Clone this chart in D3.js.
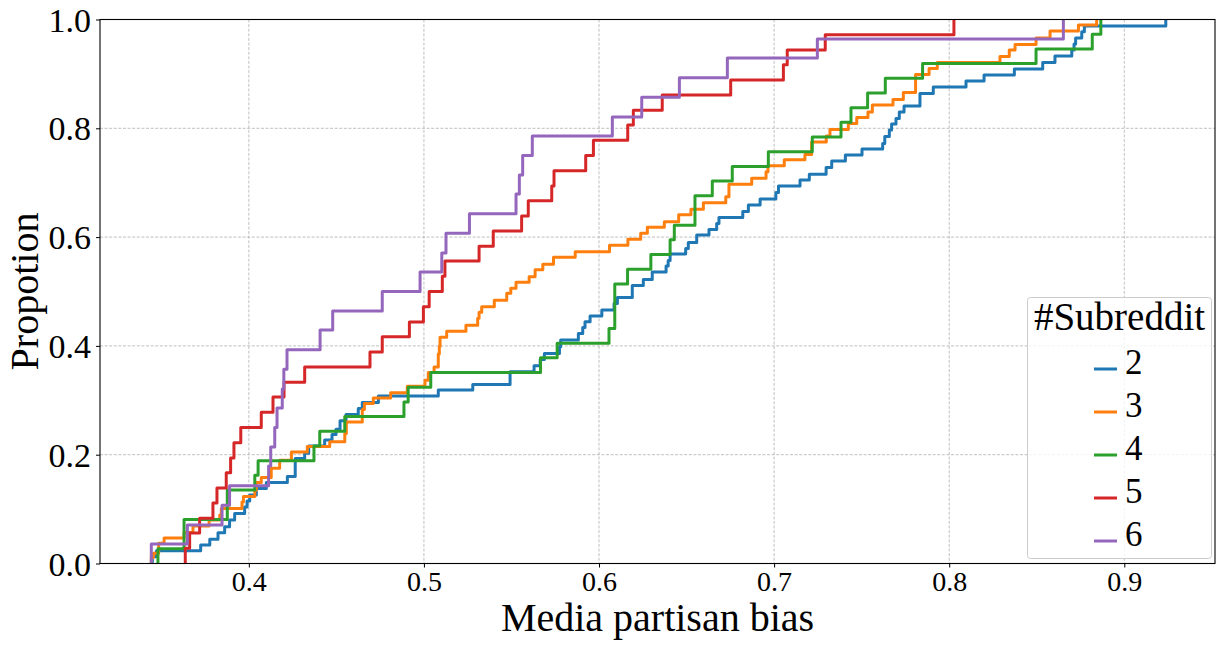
<!DOCTYPE html>
<html>
<head>
<meta charset="utf-8">
<script src="https://cdn.jsdelivr.net/npm/d3@7/dist/d3.min.js"></script>
<style>
  body { margin: 0; background: #fff; }
  text { font-family: "Liberation Serif", "Times New Roman", serif; fill: #000; }
</style>
</head>
<body>
<div id="chart"></div>
<script>
// --- Data: step positions (x) and proportion after each step (y) ---
const seriesNames = ["2", "3", "4", "5", "6"];
const seriesColors = ["#1f77b4", "#ff7f0e", "#2ca02c", "#d62728", "#9467bd"];
const xTicks = [0.4, 0.5, 0.6, 0.7, 0.8, 0.9];
const yTicks = [0.0, 0.2, 0.4, 0.6, 0.8, 1.0];

const blueX = [0.3449,0.3472,0.3725,0.3777,0.3824,0.3862,0.3890,0.3919,0.3976,0.3990,
  0.4005,0.4043,0.4100,0.4220,0.4265,0.4319,0.4342,0.4433,0.4475,0.4498,
  0.4521,0.4555,0.4625,0.4648,0.4740,0.5082,0.5279,0.5492,0.5629,0.5664,
  0.5688,0.5774,0.5781,0.5882,0.5907,0.5920,0.5949,0.6016,0.6086,0.6105,
  0.6190,0.6253,0.6304,0.6383,0.6395,0.6406,0.6495,0.6510,0.6558,0.6628,
  0.6672,0.6685,0.6821,0.6853,0.6920,0.7010,0.7025,0.7148,0.7201,0.7297,
  0.7329,0.7407,0.7502,0.7620,0.7632,0.7658,0.7671,0.7696,0.7715,0.7742,
  0.7833,0.7909,0.8096,0.8199,0.8372,0.8534,0.8604,0.8700,0.8713,0.8722,
  0.8757,0.8772,0.9237];
const blueY = [0.0125,0.0235,0.034,0.0445,0.0566,0.0676,0.080,0.092,0.104,0.115,
  0.126,0.138,0.149,0.160,0.193,0.2025,0.216,0.227,0.237,0.2467,
  0.2625,0.274,0.285,0.296,0.308,0.319,0.329,0.3526,0.3636,0.375,
  0.386,0.3985,0.411,0.423,0.434,0.4445,0.455,0.466,0.478,0.489,
  0.511,0.522,0.536,0.547,0.557,0.569,0.579,0.590,0.604,0.614,
  0.625,0.636,0.647,0.659,0.670,0.682,0.694,0.705,0.7155,0.728,
  0.740,0.751,0.762,0.772,0.785,0.797,0.808,0.818,0.830,0.841,
  0.864,0.876,0.887,0.898,0.909,0.921,0.933,0.944,0.955,0.966,
  0.9775,0.988,1.0];

const orangeX = [0.3443,0.3455,0.3485,0.3516,0.3630,0.3681,0.3773,0.3834,0.3843,0.3961,
  0.3969,0.4034,0.4043,0.4071,0.4128,0.4176,0.4243,0.4334,0.4462,0.4548,
  0.4557,0.4648,0.4660,0.4711,0.4810,0.4905,0.5006,0.5025,0.5058,0.5082,
  0.5088,0.5092,0.5130,0.5240,0.5307,0.5315,0.5330,0.5402,0.5473,0.5496,
  0.5526,0.5601,0.5635,0.5679,0.5740,0.5864,0.6060,0.6165,0.6238,0.6276,
  0.6373,0.6455,0.6525,0.6596,0.6724,0.6742,0.6872,0.6954,0.6965,0.7058,
  0.7176,0.7214,0.7298,0.7319,0.7424,0.7472,0.7536,0.7561,0.7679,0.7738,
  0.7808,0.7885,0.7932,0.8290,0.8343,0.8376,0.8496,0.8576,0.8738,0.8842];
const orangeY = [0.011,0.019,0.037,0.047,0.057,0.069,0.080,0.089,0.101,0.113,
  0.123,0.135,0.149,0.158,0.175,0.190,0.205,0.215,0.224,0.239,
  0.260,0.283,0.294,0.304,0.314,0.326,0.337,0.351,0.361,0.385,
  0.399,0.416,0.427,0.438,0.451,0.462,0.472,0.484,0.497,0.506,
  0.517,0.527,0.540,0.550,0.563,0.573,0.585,0.596,0.607,0.618,
  0.628,0.641,0.651,0.663,0.674,0.697,0.708,0.720,0.731,0.742,
  0.752,0.775,0.786,0.798,0.809,0.820,0.830,0.843,0.853,0.866,
  0.899,0.910,0.921,0.932,0.944,0.954,0.966,0.979,0.990,1.0];

const greenX = [0.3481,0.3630,0.3877,0.4034,0.4053,0.4372,0.4405,0.4548,0.4886,0.4910,
  0.5039,0.5666,0.5761,0.6057,0.6090,0.6163,0.6296,0.6406,0.6430,0.6548,
  0.6647,0.6761,0.6967,0.7218,0.7382,0.7439,0.7534,0.7635,0.7848,0.8496,
  0.8817,0.8866];
const greenY = [0.027,0.081,0.135,0.162,0.189,0.216,0.243,0.270,0.297,0.324,
  0.351,0.378,0.405,0.432,0.514,0.541,0.568,0.595,0.622,0.676,
  0.703,0.730,0.757,0.784,0.811,0.838,0.865,0.892,0.919,0.946,
  0.973,1.0];

const redX = [0.3637,0.3662,0.3719,0.3795,0.3818,0.3871,0.3896,0.3915,0.3954,0.4071,
  0.4138,0.4201,0.4319,0.4692,0.4762,0.4917,0.4997,0.5030,0.5105,0.5120,
  0.5315,0.5396,0.5558,0.5596,0.5730,0.5743,0.5924,0.5968,0.6164,0.6196,
  0.6361,0.6752,0.7053,0.7075,0.7292,0.8027];
const redY = [0.028,0.056,0.083,0.111,0.139,0.167,0.194,0.222,0.250,0.278,
  0.306,0.333,0.361,0.389,0.417,0.444,0.472,0.500,0.528,0.556,
  0.583,0.611,0.639,0.667,0.694,0.722,0.750,0.778,0.806,0.833,
  0.861,0.889,0.917,0.944,0.972,1.0];

const purpleX = [0.3443,0.3649,0.3847,0.3890,0.4113,0.4125,0.4148,0.4161,0.4191,0.4200,
  0.4218,0.4407,0.4479,0.4762,0.4978,0.5102,0.5126,0.5260,0.5526,0.5545,
  0.5564,0.5619,0.6076,0.6244,0.6459,0.6733,0.7247,0.8652];
const purpleY = [0.036,0.071,0.107,0.143,0.179,0.214,0.250,0.286,0.321,0.357,
  0.393,0.429,0.464,0.500,0.536,0.571,0.607,0.643,0.679,0.714,
  0.750,0.786,0.821,0.857,0.893,0.929,0.964,1.0];

const stepXs = [blueX, orangeX, greenX, redX, purpleX];
const stepYs = [blueY, orangeY, greenY, redY, purpleY];

// --- Sizes ---
const width = 1223, height = 646;
const plotL = 100, plotR = 1215, plotT = 19.5, plotB = 563.5;

const svg = d3.select("#chart")
  .append("svg")
    .attr("width", width)
    .attr("height", height);

// --- Scales ---
const xScale = d3.scaleLinear().domain([0.315, 0.9518]).range([plotL, plotR]);
const yScale = d3.scaleLinear().domain([0, 1]).range([plotB, plotT]);

svg.append("clipPath").attr("id", "plot-clip")
  .append("rect")
    .attr("x", plotL).attr("y", plotT)
    .attr("width", plotR - plotL).attr("height", plotB - plotT);

// --- Grid (dashed, light grey) ---
const grid = svg.append("g");
grid.selectAll("line.gx")
  .data(xTicks)
  .join("line")
    .attr("x1", d => xScale(d)).attr("x2", d => xScale(d))
    .attr("y1", plotT).attr("y2", plotB)
    .attr("stroke", "#b0b0b0").attr("stroke-width", 0.8)
    .attr("stroke-dasharray", "3,1.6");
grid.selectAll("line.gy")
  .data(yTicks.slice(1, -1))
  .join("line")
    .attr("x1", plotL).attr("x2", plotR)
    .attr("y1", d => yScale(d)).attr("y2", d => yScale(d))
    .attr("stroke", "#b0b0b0").attr("stroke-width", 0.8)
    .attr("stroke-dasharray", "3,1.6");

// --- ECDF step lines ---
const line = d3.line()
  .x(d => xScale(d[0]))
  .y(d => yScale(d[1]))
  .curve(d3.curveStepAfter);

const lines = svg.append("g").attr("clip-path", "url(#plot-clip)");
seriesNames.forEach((name, i) => {
  const xs = stepXs[i], ys = stepYs[i];
  const pts = [[xs[0], 0]].concat(xs.map((x, j) => [x, ys[j]]));
  lines.append("path")
    .datum(pts)
    .attr("d", line)
    .attr("fill", "none")
    .attr("stroke", seriesColors[i])
    .attr("stroke-width", 3)
    .attr("stroke-linejoin", "round");
});

// --- Axes ---
const xAxis = svg.append("g")
  .attr("transform", `translate(0, ${plotB})`)
  .call(d3.axisBottom(xScale).tickValues(xTicks).tickSize(4).tickPadding(4)
    .tickFormat(d3.format(".1f")));
xAxis.select(".domain").remove();
xAxis.selectAll("text").style("font-size", "28px").attr("dy", "0.7em");

const yAxis = svg.append("g")
  .attr("transform", `translate(${plotL}, 0)`)
  .call(d3.axisLeft(yScale).tickValues(yTicks).tickSize(4).tickPadding(5)
    .tickFormat(d3.format(".1f")));
yAxis.select(".domain").remove();
yAxis.selectAll("text").style("font-size", "34px").attr("dy", "0.34em");

// frame
svg.append("rect")
  .attr("x", plotL).attr("y", plotT)
  .attr("width", plotR - plotL).attr("height", plotB - plotT)
  .attr("fill", "none").attr("stroke", "#000").attr("stroke-width", 1.1);

// axis titles
svg.append("text")
  .text("Media partisan bias")
  .attr("x", (plotL + plotR) / 2).attr("y", 631)
  .attr("text-anchor", "middle")
  .style("font-size", "40px");
svg.append("text")
  .text("Propotion")
  .attr("transform", `translate(38, ${(plotT + plotB) / 2}) rotate(-90)`)
  .attr("text-anchor", "middle")
  .style("font-size", "40px");

// --- Legend ---
const legend = svg.append("g");
legend.append("rect")
  .attr("x", 1027.5).attr("y", 297.5)
  .attr("width", 184).attr("height", 261)
  .attr("rx", 3)
  .attr("fill", "#fff").attr("fill-opacity", 0.8)
  .attr("stroke", "#cccccc").attr("stroke-width", 1);
legend.append("text")
  .text("#Subreddit")
  .attr("x", 1119.5).attr("y", 329.5)
  .attr("text-anchor", "middle")
  .style("font-size", "39px");

const entry = legend.selectAll("g.entry")
  .data(seriesNames)
  .join("g")
    .attr("transform", (d, i) => `translate(0, ${369 + i * 43})`);
entry.append("line")
  .attr("x1", 1094).attr("x2", 1117)
  .attr("y1", 0).attr("y2", 0)
  .attr("stroke", (d, i) => seriesColors[i])
  .attr("stroke-width", 3);
entry.append("text")
  .text(d => d)
  .attr("x", 1125).attr("y", 4.5)
  .style("font-size", "35px");
</script>
</body>
</html>
